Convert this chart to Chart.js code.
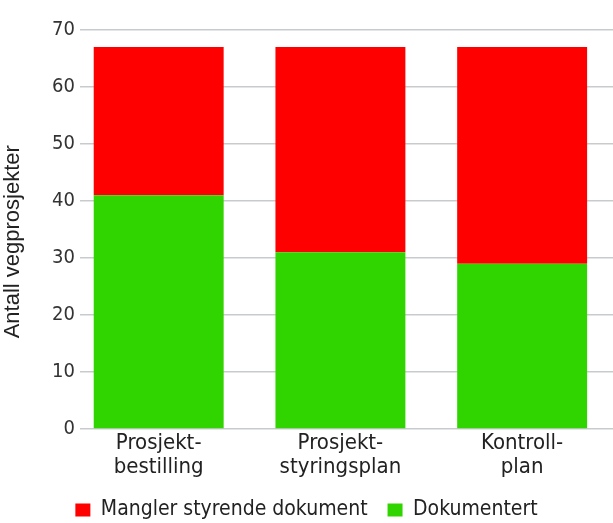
<!DOCTYPE html>
<html>
<head>
<meta charset="utf-8">
<script src="https://cdn.jsdelivr.net/npm/chart.js@4/dist/chart.umd.min.js"></script>
<style>
  body { margin: 0; background: #fff; }
  #wrap { width: 613px; height: 523px; }
</style>
</head>
<body>
<div id="wrap"><canvas id="chart"></canvas></div>
<script>
const categories = [["Prosjekt-", "bestilling"], ["Prosjekt-", "styringsplan"], ["Kontroll-", "plan"]];
const documented = [41, 31, 29];
const missing = [26, 36, 38];
const yTicks = [0, 10, 20, 30, 40, 50, 60, 70];

const NARROW = "'Liberation Sans Narrow', 'DejaVu Sans Condensed', 'Roboto Condensed', sans-serif";

new Chart(document.getElementById("chart"), {
    type: "bar",
    data: {
        datasets: [
            {
                label: "Dokumentert",
                data: documented.map((v, i) => ({ x: i, y: v })),
                backgroundColor: "#30d500"
            },
            {
                label: "Mangler styrende dokument",
                data: missing.map((v, i) => ({ x: i, y: v })),
                backgroundColor: "#ff0000"
            }
        ]
    },
    options: {
        responsive: true,
        maintainAspectRatio: false,
        animation: false,
        // legend sits low, partly in the negative bottom padding
        layout: { padding: { top: 30, right: 0, left: 0, bottom: -7.5 } },
        datasets: {
            bar: { barPercentage: 0.715, categoryPercentage: 1, borderWidth: 0 }
        },
        plugins: {
            tooltip: { enabled: false },
            legend: {
                position: "bottom",
                reverse: true,
                labels: {
                    boxWidth: 15,
                    boxHeight: 13,
                    padding: 20,
                    color: "#222",
                    font: { family: NARROW, size: 21 }
                }
            }
        },
        scales: {
            x: {
                type: "linear",
                stacked: true,
                offset: false,
                min: -0.4,
                max: 2.5,
                grid: { display: false, drawTicks: false, tickLength: 0 },
                border: { display: false },
                afterBuildTicks: s => { s.ticks = categories.map((c, i) => ({ value: i })); },
                afterFit: s => { s.height = 50.5; },
                ticks: {
                    autoSkip: false,
                    maxRotation: 0,
                    padding: 2,
                    color: "#222",
                    font: { family: NARROW, size: 22, lineHeight: 1.1 },
                    callback: v => categories[v]
                }
            },
            y: {
                stacked: true,
                min: 0,
                max: 70,
                afterBuildTicks: s => { s.ticks = yTicks.map(v => ({ value: v })); },
                afterFit: s => { s.width = 86; },
                border: { display: false },
                grid: { color: "#c8cbce", lineWidth: 1.5, tickLength: 6 },
                ticks: {
                    padding: 5,
                    color: "#333",
                    font: { family: NARROW, size: 20 }
                },
                title: {
                    display: true,
                    text: "Antall vegprosjekter" + "\u00a0".repeat(4),
                    color: "#222",
                    padding: { top: 0, bottom: 0 },
                    font: { family: "'Liberation Sans', Arial, sans-serif", size: 22 }
                }
            }
        }
    }
});
</script>
</body>
</html>
